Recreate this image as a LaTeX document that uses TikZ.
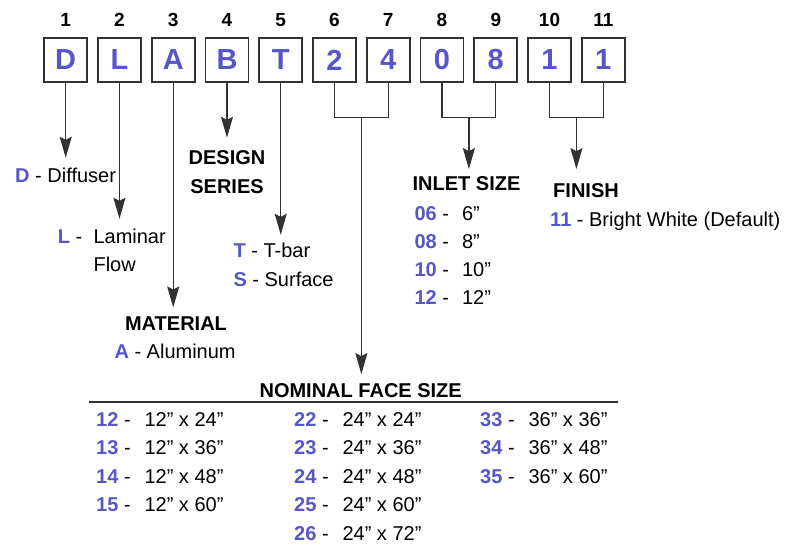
\documentclass[tikz,border=0pt]{standalone}
\usepackage{fontspec}
\setmainfont{Liberation Sans}
\usetikzlibrary{arrows.meta,positioning,calc}
\definecolor{kek}{RGB}{86,86,200}
\definecolor{vonal}{RGB}{50,50,50}
\newcommand{\kod}[1]{\textcolor{kek}{\bfseries #1}}
\tikzset{
  dob/.style={draw=vonal,line width=1.6pt,minimum width=43pt,minimum height=44.5pt,
    inner sep=0pt,text=kek,font=\fontsize{29}{30}\selectfont\bfseries},
  szam/.style={anchor=base,font=\fontsize{19}{22}\selectfont\bfseries},
  nyil/.style={draw=vonal,line width=1.4pt,-{Stealth[length=21pt,width=12pt,inset=3pt]}},
  seg/.style={draw=vonal,line width=1.4pt},
  cim/.style={anchor=base,align=center,font=\fontsize{20}{28.4}\selectfont\bfseries},
  szov/.style={anchor=base west,align=left,font=\fontsize{20}{28.4}\selectfont},
}

\begin{document}
\begin{tikzpicture}[x=1pt,y=-1pt]
  \useasboundingbox (0,0) rectangle (785,544);
  % code boxes and position numbers
  \foreach \c [count=\i] in {D,L,A,B,T,2,4,0,8,1,1} {
    \node[dob] (b\i) at ({65.7+53.76*(\i-1)},60) {\c};
    \node[szam] (n\i) at ({65.7+53.76*(\i-1)},26) {\i};
  }
  % single arrows
  \foreach \i/\h in {1/157,2/218,3/306.7,4/137,5/234} {
    \path (b\i.south) ++(0,{\h-82.25}) coordinate (v\i);
    \draw[nyil] (b\i.south) -- (v\i);
  }
  % brackets over two boxes
  \foreach \a/\b/\h in {6/7/373.3,8/9/168.3,10/11/168.3} {
    \draw[seg] (b\a.south) -- ++(0,34.4) coordinate (p\a) -| (b\b.south);
    \coordinate (m\a) at ($(p\a)!0.5!(b\b.south |- p\a)$);
    \path (m\a) ++(0,{\h-116.65}) coordinate (v\a);
    \draw[nyil] (m\a) -- (v\a);
  }
  % labels (base of a two-line node = its last line)
  \node[szov] (ld) at (11.7,182.7) {\kod{D} - Diffuser};
  \node[szov] (ll) at (54.3,271.7) {\makebox[35.7pt][l]{\kod{L} -}Laminar\\\hspace{35.7pt}Flow};
  \node[cim] (ds) at (227,193.3) {DESIGN\\SERIES};
  \node[szov] (lt) at (230,257.3) {\kod{T} - T-bar};
  \node[szov] (ls) at (230,286) {\kod{S} - Surface};
  \node[cim] (mat) at (176,330) {MATERIAL};
  \node[szov] (la) at (111,358.3) {\kod{A} - Aluminum};
  \node[cim] (inl) at (466.5,190.7) {INLET SIZE};
  \foreach \k/\m [count=\r from 0] in {06/6”,08/8”,10/10”,12/12”}
    \node[szov] (i\k) at (411,{220+28.33*\r}) {\makebox[47.5pt][l]{\kod{\k} -}\m};
  \node[cim] (fin) at (586,197.3) {FINISH};
  \node[szov] (f11) at (546.7,226.7) {\kod{11} - Bright White (Default)};
  % nominal face size table
  \node[cim] (nfs) at (360.7,397.3) {NOMINAL FACE SIZE};
  \draw[draw=vonal,line width=1.8pt] (89,402.3) -- (618.3,402.3);
  \foreach \x/\r/\k/\m in {92.7/0/12/12” x 24”,92.7/1/13/12” x 36”,92.7/2/14/12” x 48”,
      92.7/3/15/12” x 60”,290.7/0/22/24” x 24”,290.7/1/23/24” x 36”,290.7/2/24/24” x 48”,
      290.7/3/25/24” x 60”,290.7/4/26/24” x 72”,476.7/0/33/36” x 36”,476.7/1/34/36” x 48”,
      476.7/2/35/36” x 60”}
    \node[szov] (s\k) at (\x,{426+28.5*\r}) {\makebox[48.3pt][l]{\kod{\k} -}\m};
\end{tikzpicture}
\end{document}
